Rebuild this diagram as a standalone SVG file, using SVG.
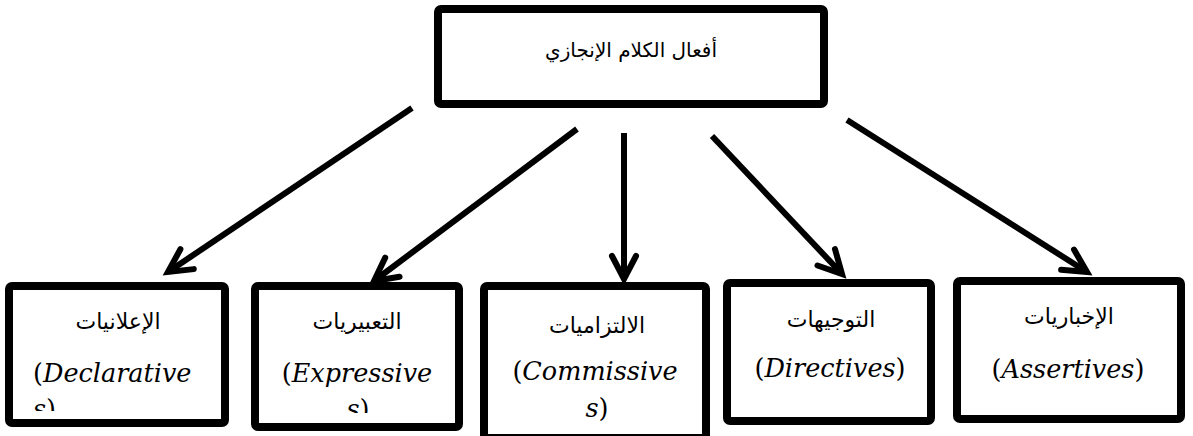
<svg xmlns="http://www.w3.org/2000/svg" width="1193" height="436" viewBox="0 0 1193 436">
<style>
.box{fill:#fff;stroke:#000;stroke-width:8;stroke-linejoin:round}
.ar{font-family:"DejaVu Sans",sans-serif;font-size:22px;fill:#000;text-anchor:middle}
.en{font-family:"DejaVu Serif","Liberation Serif",serif;font-size:25.5px;fill:#000}
.it{font-style:italic}
.mid{text-anchor:middle}
.conn{stroke:#000;stroke-width:6;fill:none}
</style>
<defs>
<marker id="arr" markerUnits="userSpaceOnUse" viewBox="-30 -16 34 32" markerWidth="34" markerHeight="32" refX="0" refY="0" orient="auto" overflow="visible">
<path d="M-23,-12 L0,0 L-23,12" fill="none" stroke="#000" stroke-width="6" stroke-linecap="round" stroke-linejoin="miter"/>
</marker>
<clipPath id="c1"><rect x="13" y="290" width="208" height="121"/></clipPath>
<clipPath id="c2"><rect x="259" y="290" width="196" height="123"/></clipPath>
</defs>
<g id="connectors">
<line class="conn" x1="412" y1="108" x2="168" y2="272" marker-end="url(#arr)"/>
<line class="conn" x1="577" y1="129" x2="374" y2="281" marker-end="url(#arr)"/>
<line class="conn" x1="624" y1="133" x2="624" y2="279" marker-end="url(#arr)"/>
<line class="conn" x1="712" y1="136" x2="842" y2="274" marker-end="url(#arr)"/>
<line class="conn" x1="847" y1="120" x2="1087" y2="272" marker-end="url(#arr)"/>
</g>
<g id="top">
<rect class="box" x="438" y="9" width="386" height="95" rx="3"/>
<text class="ar" x="631" y="57" style="font-size:20px">أفعال الكلام الإنجازي</text>
</g>
<g id="declaratives">
<rect class="box" x="9" y="286" width="216" height="137" rx="3"/>
<text class="ar" x="118" y="329">الإعلانيات</text>
<g clip-path="url(#c1)">
<text class="en" x="33" y="382">(<tspan class="it">Declarative</tspan></text>
<text class="en" x="33" y="418"><tspan class="it">s</tspan>)</text>
</g>
</g>
<g id="expressives">
<rect class="box" x="255" y="286" width="204" height="141" rx="3"/>
<text class="ar" x="357" y="329">التعبيريات</text>
<g clip-path="url(#c2)">
<text class="en mid" x="357" y="382">(<tspan class="it">Expressive</tspan></text>
<text class="en mid" x="358" y="418"><tspan class="it">s</tspan>)</text>
</g>
</g>
<g id="commissives">
<rect class="box" x="484" y="286" width="222" height="152" rx="3"/>
<text class="ar" x="597" y="333">الالتزاميات</text>
<text class="en mid" x="595" y="380">(<tspan class="it">Commissive</tspan></text>
<text class="en mid" x="597" y="417"><tspan class="it">s</tspan>)</text>
</g>
<g id="directives">
<rect class="box" x="727" y="283" width="204" height="138" rx="3"/>
<text class="ar" x="831" y="327">التوجيهات</text>
<text class="en mid" x="830" y="377">(<tspan class="it">Directives</tspan>)</text>
</g>
<g id="assertives">
<rect class="box" x="957" y="281" width="224" height="138" rx="3"/>
<text class="ar" x="1069" y="324">الإخباريات</text>
<text class="en mid" x="1068" y="378">(<tspan class="it">Assertives</tspan>)</text>
</g>
</svg>
